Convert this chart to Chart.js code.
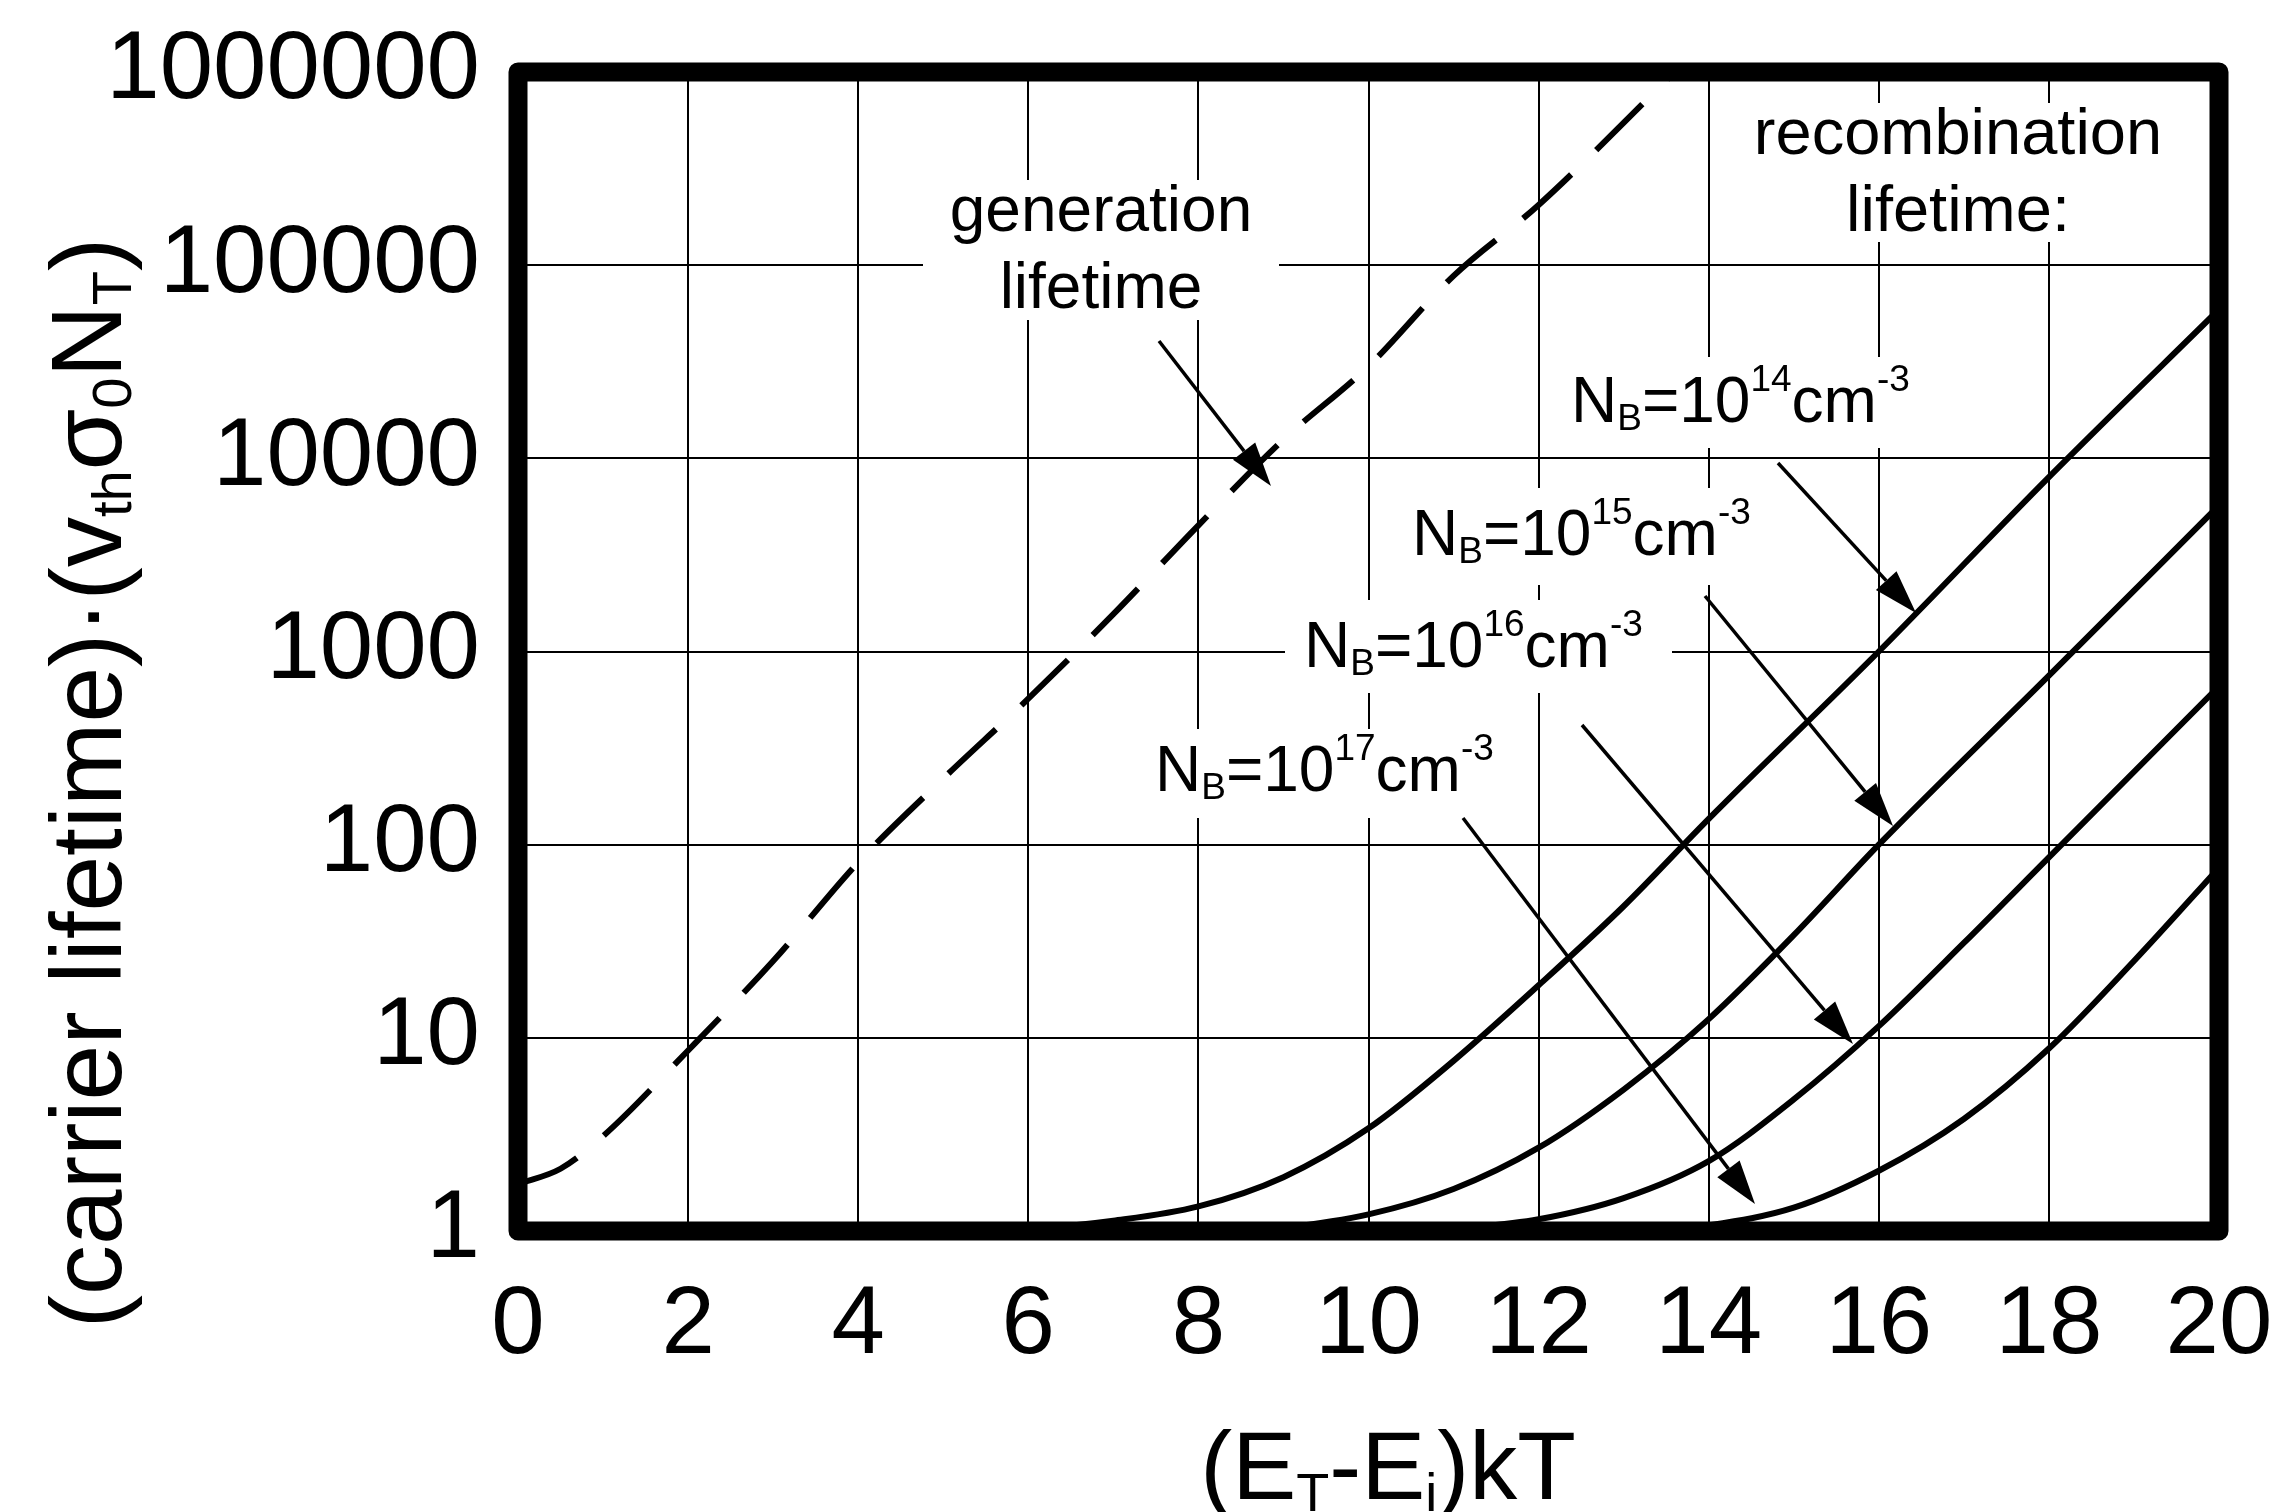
<!DOCTYPE html>
<html>
<head>
<meta charset="utf-8">
<script src="https://cdn.jsdelivr.net/npm/chart.js@4.4.1/dist/chart.umd.min.js"></script>
<style>
    html, body { margin: 0; padding: 0; background: #fff; }
    #wrap { width: 2289px; height: 1512px; }
</style>
</head>
<body>
<div id="wrap"><canvas id="myChart" width="2289" height="1512"></canvas></div>
<script>
var xTicks = [0, 2, 4, 6, 8, 10, 12, 14, 16, 18, 20];
var yTicks = [1, 10, 100, 1000, 10000, 100000, 1000000];
var yTickLabels = ['1', '10', '100', '1000', '10000', '100000', '1000000'];

// generation lifetime (dashed)
var genX = [0, 0.5, 1, 2, 3, 4, 5, 6, 7, 8, 9, 10, 11, 12, 13.6];
var genY = [1.75, 2.1, 3.1, 8.6, 25, 81, 220, 570, 1560, 4500, 12500, 30000, 88000, 205000, 1000000];

// recombination lifetime, one curve per doping
var nb14X = [5.6, 6, 7, 8, 9, 10, 11, 12, 13, 14, 16, 18, 20];
var nb14Y = [1, 1.02, 1.13, 1.34, 1.9, 3.4, 7.6, 18.7, 48, 136, 1000, 8000, 59000];
var nb15X = [8.5, 9, 10, 11, 12, 13, 14, 15, 16, 18, 20];
var nb15Y = [1, 1.04, 1.22, 1.65, 2.7, 5.4, 12.5, 34, 100, 750, 5700];
var nb16X = [10.8, 11, 12, 13, 14, 15, 16, 17, 18, 20];
var nb16Y = [1, 1.02, 1.15, 1.48, 2.3, 4.8, 11.5, 31, 86, 660];
var nb17X = [13.3, 14, 15, 16, 17, 18, 19, 20];
var nb17Y = [1, 1.07, 1.32, 2.05, 3.8, 8.8, 25, 76];

var FONT = '"Liberation Sans", Arial, sans-serif';

function toPoints(xs, ys) {
    return xs.map(function (x, i) { return { x: x, y: ys[i] }; });
}

function lineSet(label, xs, ys, dash) {
    return {
        label: label,
        data: toPoints(xs, ys),
        borderColor: '#000',
        borderWidth: 6,
        borderDash: dash || [],
        pointRadius: 0,
        fill: false,
        cubicInterpolationMode: 'monotone'
    };
}

// text with sub (1) / sup (2) parts
function richWidth(ctx, parts, size, small) {
    var w = 0;
    parts.forEach(function (p) {
        ctx.font = (p[1] ? small : size) + 'px ' + FONT;
        w += ctx.measureText(p[0]).width;
    });
    return w;
}

function drawRich(ctx, parts, x, y, size, small, subOff, supOff) {
    parts.forEach(function (p) {
        ctx.font = (p[1] ? small : size) + 'px ' + FONT;
        var dy = p[1] === 1 ? subOff : (p[1] === 2 ? -supOff : 0);
        ctx.fillText(p[0], x, y + dy);
        x += ctx.measureText(p[0]).width;
    });
}

function nbParts(exp) {
    return [['N', 0], ['B', 1], ['=10', 0], [exp, 2], ['cm', 0], ['-3', 2]];
}

var boxes = [
    [923, 180, 356, 140],
    [1728, 103, 462, 139],
    [1555, 357, 385, 91],
    [1398, 488, 377, 97],
    [1285, 600, 387, 93],
    [1145, 729, 380, 89]
];

var nbLabels = [
    { exp: '14', x: 1571, y: 422 },
    { exp: '15', x: 1412, y: 555 },
    { exp: '16', x: 1304, y: 667 },
    { exp: '17', x: 1155, y: 791 }
];

var arrows = [
    [1159, 341, 1271, 486],
    [1778, 463, 1916, 613],
    [1705, 596, 1893, 826],
    [1582, 725, 1853, 1044],
    [1463, 818, 1755, 1204]
];

var annotations = {
    id: 'annotations',
    beforeDatasetsDraw: function (chart) {
        var ctx = chart.ctx;
        ctx.save();
        ctx.fillStyle = '#fff';
        boxes.forEach(function (b) { ctx.fillRect(b[0], b[1], b[2], b[3]); });

        ctx.fillStyle = '#000';
        ctx.textBaseline = 'alphabetic';
        ctx.textAlign = 'center';
        ctx.font = '64px ' + FONT;
        ctx.fillText('generation', 1101, 231);
        ctx.fillText('lifetime', 1101, 308);
        ctx.font = '65px ' + FONT;
        ctx.fillText('recombination', 1958, 154);
        ctx.fillText('lifetime:', 1958, 231);

        ctx.textAlign = 'left';
        nbLabels.forEach(function (l) {
            drawRich(ctx, nbParts(l.exp), l.x, l.y, 64, 37, 8, 31);
        });
        ctx.restore();
    },
    afterDatasetsDraw: function (chart) {
        var ctx = chart.ctx;
        var a = chart.chartArea;
        ctx.save();
        ctx.strokeStyle = '#000';
        ctx.fillStyle = '#000';
        ctx.lineWidth = 3.5;
        arrows.forEach(function (ar) {
            var ang = Math.atan2(ar[3] - ar[1], ar[2] - ar[0]);
            var len = 44, hw = 14;
            var bx = ar[2] - len * Math.cos(ang), by = ar[3] - len * Math.sin(ang);
            ctx.beginPath();
            ctx.moveTo(ar[0], ar[1]);
            ctx.lineTo(bx, by);
            ctx.stroke();
            ctx.beginPath();
            ctx.moveTo(ar[2], ar[3]);
            ctx.lineTo(bx + hw * Math.sin(ang), by - hw * Math.cos(ang));
            ctx.lineTo(bx - hw * Math.sin(ang), by + hw * Math.cos(ang));
            ctx.closePath();
            ctx.fill();
        });

        // thick frame
        ctx.lineWidth = 19;
        ctx.lineJoin = 'round';
        ctx.strokeRect(a.left, a.top, a.right - a.left, a.bottom - a.top);

        // axis titles
        ctx.textAlign = 'left';
        ctx.textBaseline = 'alphabetic';
        var xt = [['(E', 0], ['T', 1], ['-E', 0], ['i', 1], [')kT', 0]];
        var w = richWidth(ctx, xt, 96, 54);
        drawRich(ctx, xt, 1388 - w / 2, 1499, 96, 54, 12, 0);

        var yt = [['(carrier lifetime)\u00b7(v', 0], ['th', 1], ['\u03c3', 0], ['0', 1], ['N', 0], ['T', 1], [')', 0]];
        ctx.translate(121, 783);
        ctx.rotate(-Math.PI / 2);
        var wy = richWidth(ctx, yt, 100, 56);
        drawRich(ctx, yt, -wy / 2, 0, 100, 56, 10, 0);
        ctx.restore();
    }
};

var ctx = document.getElementById('myChart').getContext('2d');
var myChart = new Chart(ctx, {
    type: 'line',
    data: {
        datasets: [
            lineSet('generation lifetime', genX, genY, [65, 35]),
            lineSet('NB=1e14', nb14X, nb14Y),
            lineSet('NB=1e15', nb15X, nb15Y),
            lineSet('NB=1e16', nb16X, nb16Y),
            lineSet('NB=1e17', nb17X, nb17Y)
        ]
    },
    options: {
        responsive: false,
        animation: false,
        devicePixelRatio: 1,
        layout: { padding: { left: 0, right: 70, top: 72, bottom: 0 } },
        plugins: { legend: { display: false }, tooltip: { enabled: false } },
        scales: {
            x: {
                type: 'linear',
                min: 0,
                max: 20,
                afterBuildTicks: function (s) { s.ticks = xTicks.map(function (v) { return { value: v }; }); },
                afterFit: function (s) {
                    s.height = 281;
                    s.paddingLeft = 0;
                    s.paddingRight = 0;
                },
                ticks: { color: '#000', font: { family: FONT, size: 96 }, padding: 38, maxRotation: 0, autoSkip: false },
                grid: { color: '#000', lineWidth: 2, drawTicks: false },
                border: { display: false }
            },
            y: {
                type: 'logarithmic',
                min: 1,
                max: 1000000,
                afterBuildTicks: function (s) { s.ticks = yTicks.map(function (v) { return { value: v }; }); },
                afterFit: function (s) {
                    s.width = 518;
                    s.paddingTop = 0;
                    s.paddingBottom = 0;
                },
                ticks: {
                    color: '#000',
                    font: { family: FONT, size: 96 },
                    padding: 38,
                    autoSkip: false,
                    callback: function (v) { return yTickLabels[yTicks.indexOf(v)]; }
                },
                grid: { color: '#000', lineWidth: 2, drawTicks: false },
                border: { display: false }
            }
        }
    },
    plugins: [annotations]
});
</script>
</body>
</html>
